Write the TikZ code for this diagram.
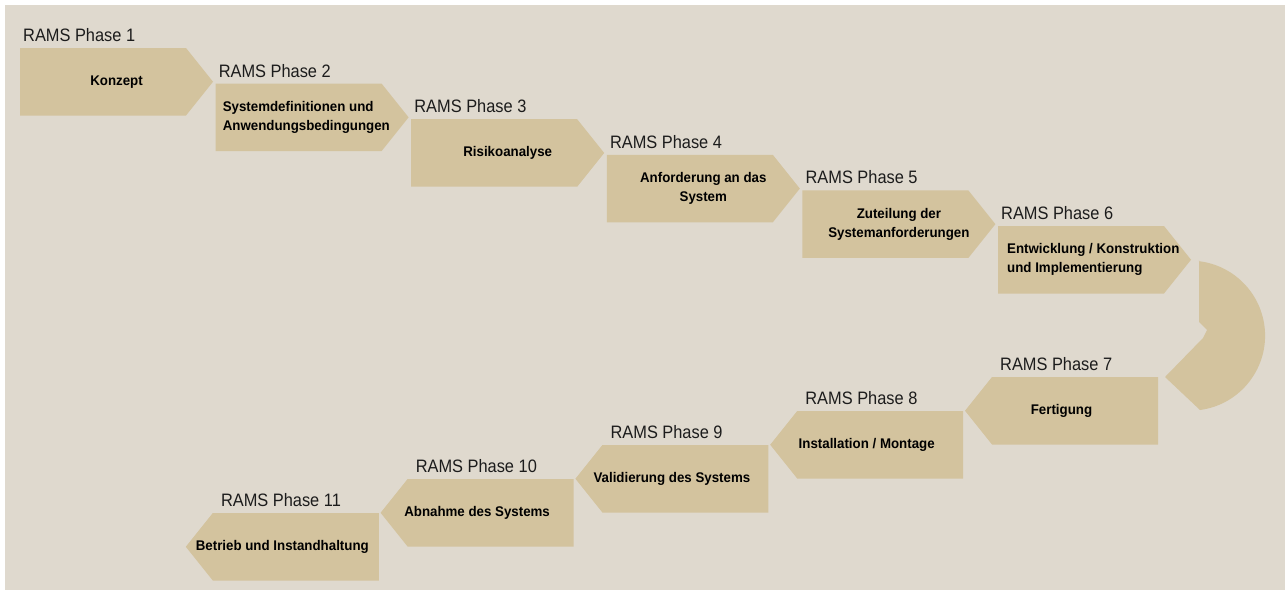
\documentclass[tikz,border=0pt]{standalone}
\usepackage{fontspec}
\setmainfont{Liberation Sans}
\newfontfamily\labelfont[FakeStretch=0.91]{Liberation Sans}
\newfontfamily\stepfont[FakeStretch=0.95]{Liberation Sans}

\definecolor{paper}{RGB}{223,217,206}
\definecolor{stepfill}{RGB}{211,195,158}
\definecolor{labelink}{RGB}{28,28,28}

% arrow-shaped step pointing right: left x, top y
\newcommand\fwdstep[2]{%
  \fill[stepfill] (#1,#2) -- ++(166,0) -- ++(27,33.75) -- ++(-27,33.75) -- ++(-166,0) -- cycle;}
% arrow-shaped step pointing left: right x, top y
\newcommand\backstep[2]{%
  \fill[stepfill] (#1,#2) -- ++(-166,0) -- ++(-27,33.75) -- ++(27,33.75) -- ++(166,0) -- cycle;}

\begin{document}
\begin{tikzpicture}[x=1pt,y=-1pt,
  phaselabel/.style={anchor=base west, inner sep=0pt,
    font=\labelfont\fontsize{18}{21}\selectfont, text=labelink},
  steptext/.style={inner sep=0pt, align=center,
    font=\stepfont\bfseries\fontsize{14}{19}\selectfont, text=black},
  steptextleft/.style={steptext, anchor=west, align=left},
]
\useasboundingbox (0,0) rectangle (1285,592);
\fill[white] (0,0) rectangle (1285,592);
\fill[paper] (5,5) rectangle (1285,590);

% upper row, left to right
\fwdstep{20}{48}
\fwdstep{215.6}{83.6}
\fwdstep{411.2}{119.2}
\fwdstep{606.8}{154.8}
\fwdstep{802.4}{190.4}
\fwdstep{998}{226}

% turning arc between the two rows
\fill[stepfill] (1199,260) -- (1199,322) -- (1207,330) -- (1203,338) -- (1165,377)
  -- (1200,410) arc[start angle=82.4, end angle=-83.2, radius=75] -- cycle;

% lower row, right to left
\backstep{1158}{377}
\backstep{963.2}{411}
\backstep{768.4}{445}
\backstep{573.6}{479}
\backstep{378.8}{513}

% phase titles
\node[phaselabel] (l1) at (23,41.5) {RAMS Phase 1};
\node[phaselabel] (l2) at (218.6,77.1) {RAMS Phase 2};
\node[phaselabel] (l3) at (414.2,112.7) {RAMS Phase 3};
\node[phaselabel] (l4) at (609.8,148.3) {RAMS Phase 4};
\node[phaselabel] (l5) at (805.4,183.9) {RAMS Phase 5};
\node[phaselabel] (l6) at (1001,219.5) {RAMS Phase 6};
\node[phaselabel] (l7) at (1000,370) {RAMS Phase 7};
\node[phaselabel] (l8) at (805.2,404) {RAMS Phase 8};
\node[phaselabel] (l9) at (610.4,438) {RAMS Phase 9};
\node[phaselabel] (l10) at (415.6,472) {RAMS Phase 10};
\node[phaselabel] (l11) at (220.8,506) {RAMS Phase 11};

% step contents
\node[steptext] (p1) at (116.5,81.75) {Konzept};
\node[steptextleft] (p2) at (222.6,117.35) {Systemdefinitionen und\\Anwendungsbedingungen};
\node[steptext] (p3) at (507.7,152.95) {Risikoanalyse};
\node[steptext] (p4) at (703.3,188.55) {Anforderung an das\\System};
\node[steptext] (p5) at (898.9,224.15) {Zuteilung der\\Systemanforderungen};
\node[steptextleft] (p6) at (1007,259.75) {Entwicklung / Konstruktion\\und Implementierung};
\node[steptext] (p7) at (1061.5,410.75) {Fertigung};
\node[steptext] (p8) at (866.7,444.75) {Installation / Montage};
\node[steptext] (p9) at (671.9,478.75) {Validierung des Systems};
\node[steptext] (p10) at (477.1,512.75) {Abnahme des Systems};
\node[steptext] (p11) at (282.3,546.75) {Betrieb und Instandhaltung};
\end{tikzpicture}
\end{document}
